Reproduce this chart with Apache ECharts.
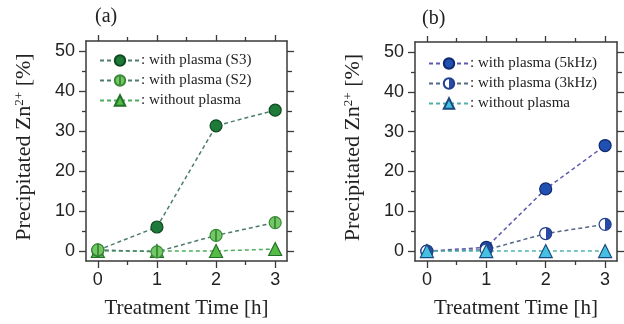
<!DOCTYPE html>
<html><head><meta charset="utf-8">
<script src="https://cdn.jsdelivr.net/npm/echarts@6/dist/echarts.min.js"></script>
<style>html,body{margin:0;padding:0;background:#fff}#c{width:624px;height:324px}</style>
</head><body><div id="c"></div>
<script>
// ---- data ----
const hours = [0, 1, 2, 3];
const xTickLabels = [0, 1, 2, 3];
const xMinorTicks = [0.5, 1.5, 2.5];
const yTickLabels = [0, 10, 20, 30, 40, 50];
const yMinorTicks = [5, 15, 25, 35, 45];

const namesA = [': with plasma (S3)', ': with plasma (S2)', ': without plasma'];
const plasmaS3 = [0.2, 6.0, 31.3, 35.2];
const plasmaS2 = [0.3, -0.2, 3.9, 7.1];
const noPlasmaA = [0.0, 0.0, 0.0, 0.5];

const namesB = [': with plasma (5kHz)', ': with plasma (3kHz)', ': without plasma'];
const plasma5k = [0.0, 0.9, 15.6, 26.5];
const plasma3k = [0.0, 0.3, 4.4, 6.7];
const noPlasmaB = [0.0, 0.0, 0.0, 0.0];

const xTitle = 'Treatment Time [h]';
const yTitle = 'Precipitated Zn{s|2+} [%]';

// ---- styling ----
const SERIF = '"Liberation Serif","Times New Roman",serif';
const SANS = '"Liberation Sans",Arial,sans-serif';
const AX = '#3a3a3a';

function pairs(vals) { return hours.map((h, i) => [h, vals[i]]); }

function xAxes(gi) {
  const base = {type: 'value', gridIndex: gi, min: -0.2, max: 3.2, splitLine: {show: false}, z: 5};
  return [
    Object.assign({}, base, {position: 'bottom',
      axisLine: {show: true, onZero: false, lineStyle: {color: AX, width: 1.5}},
      axisTick: {show: true, customValues: xTickLabels, length: 7, lineStyle: {color: AX, width: 1.3}},
      axisLabel: {show: true, customValues: xTickLabels, color: '#222', fontFamily: SANS, fontSize: 18, margin: 10},
      name: xTitle, nameLocation: 'middle', nameGap: 37,
      nameTextStyle: {fontFamily: SERIF, fontSize: 21, color: '#222'}}),
    Object.assign({}, base, {position: 'bottom',
      axisLine: {show: false, onZero: false}, axisLabel: {show: false},
      axisTick: {show: true, customValues: xMinorTicks, length: 4, lineStyle: {color: AX, width: 1.3}}}),
    Object.assign({}, base, {position: 'top',
      axisLine: {show: true, onZero: false, lineStyle: {color: AX, width: 1.5}}, axisLabel: {show: false},
      axisTick: {show: true, customValues: xTickLabels, length: 6, lineStyle: {color: AX, width: 1.3}}}),
    Object.assign({}, base, {position: 'top',
      axisLine: {show: false, onZero: false}, axisLabel: {show: false},
      axisTick: {show: true, customValues: xMinorTicks, length: 4, lineStyle: {color: AX, width: 1.3}}})
  ];
}
function yAxes(gi) {
  const base = {type: 'value', gridIndex: gi, min: -2.5, max: 52.5, splitLine: {show: false}, z: 5};
  return [
    Object.assign({}, base, {position: 'left',
      axisLine: {show: true, onZero: false, lineStyle: {color: AX, width: 1.5}},
      axisTick: {show: true, customValues: yTickLabels, length: 7, lineStyle: {color: AX, width: 1.3}},
      axisLabel: {show: true, customValues: yTickLabels, color: '#222', fontFamily: SANS, fontSize: 18, margin: 11},
      name: yTitle, nameLocation: 'middle', nameRotate: 90, nameGap: 51,
      nameTextStyle: {fontFamily: SERIF, fontSize: 22, color: '#222', padding: [0, 0, 0, 8],
        rich: {s: {fontFamily: SERIF, fontSize: 13, color: '#222', verticalAlign: 'top', lineHeight: 13}}}}),
    Object.assign({}, base, {position: 'left',
      axisLine: {show: false, onZero: false}, axisLabel: {show: false},
      axisTick: {show: true, customValues: yMinorTicks, length: 4, lineStyle: {color: AX, width: 1.3}}}),
    Object.assign({}, base, {position: 'right',
      axisLine: {show: true, onZero: false, lineStyle: {color: AX, width: 1.5}}, axisLabel: {show: false},
      axisTick: {show: true, customValues: yTickLabels, length: 7, lineStyle: {color: AX, width: 1.3}}}),
    Object.assign({}, base, {position: 'right',
      axisLine: {show: false, onZero: false}, axisLabel: {show: false},
      axisTick: {show: true, customValues: yMinorTicks, length: 5, lineStyle: {color: AX, width: 1.3}}})
  ];
}

// series ids are prefixed by panel ("a|" / "b|") so legend entries stay distinct
function ser(panel, name, vals, ax, sym, size, fill, border, line) {
  return {
    type: 'line', name: panel + '|' + name, data: pairs(vals), xAxisIndex: ax, yAxisIndex: ax,
    symbol: sym, symbolSize: size, showSymbol: true, z: 3,
    itemStyle: {color: fill, borderColor: border, borderWidth: 1.2},
    lineStyle: {color: line, width: 1.5, type: [4, 3]}
  };
}
const stripeGreen = {type: 'linear', x: 0, y: 0, x2: 1, y2: 0, colorStops: [
  {offset: 0, color: '#72c863'}, {offset: 0.44, color: '#72c863'},
  {offset: 0.44, color: '#3f8f3a'}, {offset: 0.56, color: '#3f8f3a'},
  {offset: 0.56, color: '#72c863'}, {offset: 1, color: '#72c863'}]};
const halfBlue = {type: 'linear', x: 0, y: 0, x2: 1, y2: 0, colorStops: [
  {offset: 0, color: '#ffffff'}, {offset: 0.5, color: '#ffffff'},
  {offset: 0.5, color: '#2a4aa8'}, {offset: 1, color: '#2a4aa8'}]};

const series = [
  ser('a', namesA[2], noPlasmaA, 0, 'triangle', 13, '#55bb44', '#22702a', '#4fae5c'),
  ser('a', namesA[0], plasmaS3, 0, 'circle', 12, '#1f7a3a', '#0e4a20', '#4d7d6c'),
  ser('a', namesA[1], plasmaS2, 0, 'circle', 12, stripeGreen, '#3a8a3a', '#4d7d6c'),
  ser('b', namesB[0], plasma5k, 4, 'circle', 12, '#2050b0', '#10286e', '#5a5ab0'),
  ser('b', namesB[1], plasma3k, 4, 'circle', 12, halfBlue, '#23408e', '#556688'),
  ser('b', namesB[2], noPlasmaB, 4, 'triangle', 13, '#44c0e0', '#1a4a80', '#4fb2a8')
];

const legendBase = {orient: 'vertical', itemWidth: 40, itemHeight: 13, itemGap: 5,
  formatter: n => n.slice(2),
  textStyle: {fontFamily: SERIF, fontSize: 15, color: '#222', padding: [0, 0, 0, -4]},
  backgroundColor: 'transparent'};

const chart = echarts.init(document.getElementById('c'), null, {renderer: 'canvas'});
chart.setOption({
  animation: false,
  backgroundColor: '#fff',
  title: [
    {text: '(a)', left: 90, top: 2, textStyle: {fontFamily: SERIF, fontSize: 20, fontWeight: 'normal', color: '#222'}},
    {text: '(b)', left: 417, top: 4, textStyle: {fontFamily: SERIF, fontSize: 20, fontWeight: 'normal', color: '#222'}}
  ],
  legend: [
    Object.assign({}, legendBase, {left: 94, top: 48, data: namesA.map(n => ({name: 'a|' + n}))}),
    Object.assign({}, legendBase, {left: 423, top: 51, data: namesB.map(n => ({name: 'b|' + n}))})
  ],
  grid: [
    {left: 86, right: 337, top: 41, bottom: 63},
    {left: 415, right: 7, top: 42, bottom: 62}
  ],
  xAxis: xAxes(0).concat(xAxes(1)),
  yAxis: yAxes(0).concat(yAxes(1)),
  series: series
});
</script></body></html>
